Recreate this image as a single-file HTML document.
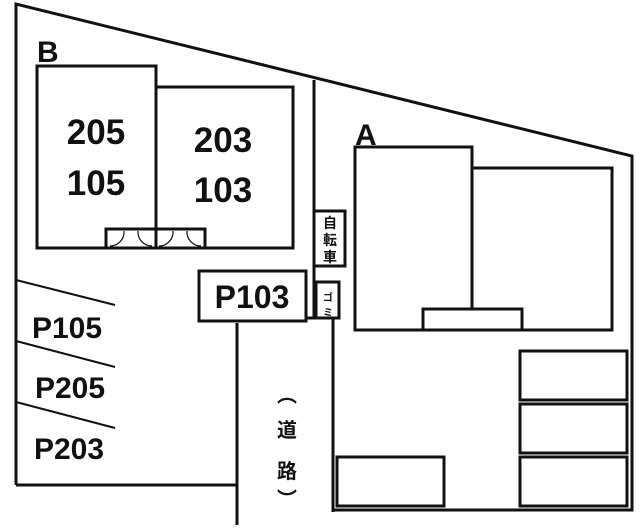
<!DOCTYPE html>
<html><head><meta charset="utf-8"><style>
html,body{margin:0;padding:0;background:#fff;width:640px;height:532px;overflow:hidden}
svg{display:block}
text{font-family:"Liberation Sans","Noto Sans CJK JP",sans-serif;font-weight:bold;fill:#111}
</style></head><body>
<svg width="640" height="532" viewBox="0 0 640 532" fill="none" stroke="#111" stroke-width="3">
<polyline points="16,485 16,4 632,156 632,510 333,510"/>
<line x1="16" y1="485" x2="237" y2="485"/>
<line x1="237" y1="323" x2="237" y2="525"/>
<line x1="333" y1="318" x2="333" y2="512"/>
<line x1="314" y1="80" x2="314" y2="318"/>
<line x1="306" y1="318" x2="339" y2="318"/>
<rect x="37" y="66" width="119" height="182"/>
<rect x="156" y="87" width="137" height="161"/>
<rect x="106" y="229" width="99" height="19"/>
<g stroke-width="1.2">
<path d="M124,231 A14,14 0 0 1 110,246"/>
<path d="M138,231 A14,14 0 0 0 152,246"/>
<path d="M173,231 A14,14 0 0 1 159,246"/>
<path d="M187,231 A14,14 0 0 0 201,246"/>
</g>
<rect x="314" y="211" width="31" height="55"/>
<rect x="316" y="282" width="23" height="36"/>
<rect x="199" y="271" width="107" height="50"/>
<polygon points="355,147 472,147 472,168 612,168 612,330 355,330"/>
<line x1="472" y1="168" x2="472" y2="309"/>
<rect x="423" y="309" width="99" height="21"/>
<rect x="520" y="351" width="107" height="49"/>
<rect x="520" y="404" width="107" height="49"/>
<rect x="520" y="457" width="107" height="49"/>
<rect x="337" y="457" width="107" height="49"/>
<g stroke-width="2">
<line x1="16" y1="280" x2="115" y2="305"/>
<line x1="16" y1="341" x2="115" y2="367"/>
<line x1="16" y1="402" x2="115" y2="428"/>
</g>
<g stroke="none">
<text x="37" y="62" font-size="30">B</text>
<text x="355" y="145" font-size="30">A</text>
<text x="96" y="144" font-size="35" text-anchor="middle">205</text>
<text x="96" y="195" font-size="35" text-anchor="middle">105</text>
<text x="223" y="152" font-size="35" text-anchor="middle">203</text>
<text x="223" y="202" font-size="35" text-anchor="middle">103</text>
<text x="252" y="308" font-size="32" text-anchor="middle">P103</text>
<text x="67" y="338" font-size="30" text-anchor="middle">P105</text>
<text x="70" y="398" font-size="30" text-anchor="middle">P205</text>
<text x="69" y="459" font-size="30" text-anchor="middle">P203</text>
<text x="330" y="228" font-size="14" font-weight="normal" text-anchor="middle">自</text>
<text x="330" y="245" font-size="14" font-weight="normal" text-anchor="middle">転</text>
<text x="330" y="262" font-size="14" font-weight="normal" text-anchor="middle">車</text>
<text x="328" y="301" font-size="10" font-weight="normal" text-anchor="middle">ゴ</text>
<text x="328" y="316" font-size="10" font-weight="normal" text-anchor="middle">ミ</text>
<text x="287" y="402" font-size="20" text-anchor="middle">︵</text>
<text x="287" y="437" font-size="20" text-anchor="middle">道</text>
<text x="287" y="478" font-size="20" text-anchor="middle">路</text>
<text x="287" y="506" font-size="20" text-anchor="middle">︶</text>
</g>
</svg>
</body></html>
